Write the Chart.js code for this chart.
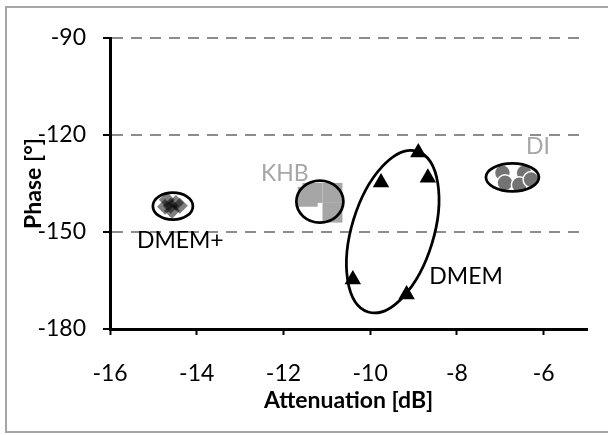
<!DOCTYPE html>
<html>
<head>
<meta charset="utf-8">
<script src="https://cdn.jsdelivr.net/npm/chart.js@4"></script>
<style>
  html, body { margin: 0; padding: 0; background: #fff; }
</style>
</head>
<body>
<canvas id="myChart" width="608" height="435"></canvas>
<script>
// axis ticks
const xTicks = [-16, -14, -12, -10, -8, -6];
const yTicks = [-180, -150, -120, -90];

// group names
const groups = ['DMEM+', 'KHB', 'DMEM', 'DI'];

// attenuation [dB] / phase [deg] per group
const dmemPlusAtt   = [-14.69, -14.48, -14.60, -14.39, -14.57, -14.73];
const dmemPlusPhase = [-140.0, -141.0, -141.9, -141.9, -143.4, -142.2];

const khbAtt   = [-11.33, -10.87, -10.87, -11.44];
const khbPhase = [-137.9, -137.9, -144.0, -139.1];

const dmemAtt   = [-8.89, -9.75, -8.67, -10.40, -9.16];
const dmemPhase = [-125.4, -134.7, -133.2, -164.7, -169.3];

const diAtt   = [-6.95, -6.89, -6.45, -6.56, -6.29];
const diPhase = [-131.7, -134.8, -131.7, -135.4, -133.8];

function pts(xs, ys) {
  return xs.map(function (x, i) { return { x: x, y: ys[i] }; });
}

// ellipses drawn round each group (centre in data units, radii in px, rotation in deg)
const rings = [
  { cx: -14.55, cy: -142.0, rx: 20,   ry: 13.5, rot: 0 },
  { cx: -11.16, cy: -140.6, rx: 23.5, ry: 21,   rot: 0 },
  { cx: -9.48,  cy: -149.9, rx: 41,   ry: 84,   rot: 17 },
  { cx: -6.72,  cy: -133.1, rx: 26.5, ry: 14,   rot: 0 }
];

// group labels
const tags = [
  { text: groups[0], x: -15.38, y: -152.7, align: 'left',   color: '#000' },
  { text: groups[1], x: -11.42, y: -131.8, align: 'right',  color: '#a6a6a6' },
  { text: groups[2], x: -8.635, y: -163.9, align: 'left',   color: '#000' },
  { text: groups[3], x: -6.13,  y: -123.5, align: 'center', color: '#a6a6a6' }
];

const overlay = {
  id: 'overlay',
  beforeDraw(chart) {
    const ctx = chart.ctx;
    ctx.save();
    ctx.fillStyle = '#fff';
    ctx.fillRect(0, 0, chart.width, chart.height);
    ctx.strokeStyle = '#a6a6a6';
    ctx.lineWidth = 2;
    ctx.strokeRect(6, 7, 610, 425);
    ctx.restore();
  },
  afterDatasetsDraw(chart) {
    const ctx = chart.ctx;
    const xs = chart.scales.x, ys = chart.scales.y;
    ctx.save();
    ctx.strokeStyle = '#000';
    ctx.lineWidth = 2.75;
    rings.forEach(function (r) {
      ctx.beginPath();
      ctx.ellipse(xs.getPixelForValue(r.cx), ys.getPixelForValue(r.cy), r.rx, r.ry, r.rot * Math.PI / 180, 0, Math.PI * 2);
      ctx.stroke();
    });
    ctx.font = '23px Lato';
    ctx.textBaseline = 'middle';
    tags.forEach(function (t) {
      ctx.fillStyle = t.color;
      ctx.textAlign = t.align;
      ctx.fillText(t.text, xs.getPixelForValue(t.x), ys.getPixelForValue(t.y));
    });
    ctx.restore();
  }
};

function draw() {
  Chart.defaults.font.family = 'Lato';
  Chart.defaults.color = '#000';

  var ctx = document.getElementById('myChart').getContext('2d');
  var myChart = new Chart(ctx, {
    type: 'scatter',
    plugins: [overlay],
    data: {
      datasets: [
        {
          label: groups[0],
          data: pts(dmemPlusAtt, dmemPlusPhase),
          pointStyle: 'rectRot',
          pointRadius: 8,
          backgroundColor: 'rgba(0,0,0,0.5)',
          borderWidth: 0
        },
        {
          label: groups[1],
          data: pts(khbAtt, khbPhase),
          pointStyle: 'rect',
          pointRadius: 14.1,
          backgroundColor: '#a6a6a6',
          borderWidth: 0
        },
        {
          label: groups[2],
          data: pts(dmemAtt, dmemPhase),
          pointStyle: 'triangle',
          pointRadius: 9.5,
          backgroundColor: '#000',
          borderWidth: 0
        },
        {
          label: groups[3],
          data: pts(diAtt, diPhase),
          pointStyle: 'circle',
          pointRadius: 8,
          backgroundColor: '#737373',
          borderColor: '#fff',
          borderWidth: 1.5
        }
      ]
    },
    options: {
      responsive: false,
      animation: false,
      layout: { padding: { left: 0, right: 21, top: 38, bottom: 0 } },
      plugins: {
        legend: { display: false },
        tooltip: { enabled: false }
      },
      scales: {
        x: {
          type: 'linear',
          position: 'bottom',
          min: -16,
          max: -5,
          bounds: 'data',
          afterBuildTicks: function (a) { a.ticks = xTicks.map(function (v) { return { value: v }; }); },
          afterFit: function (s) { s.height = 106; },
          grid: { drawOnChartArea: false, drawTicks: true, tickLength: 6, tickWidth: 2, tickColor: '#000' },
          border: { color: '#000', width: 3 },
          ticks: { padding: 25, color: '#000', font: { size: 23 } },
          title: {
            display: true,
            text: 'Attenuation [dB]',
            color: '#000',
            font: { size: 23, weight: 'bold' },
            padding: { top: 0, bottom: 21 }
          }
        },
        y: {
          type: 'linear',
          min: -180,
          max: -90,
          afterBuildTicks: function (a) { a.ticks = yTicks.map(function (v) { return { value: v }; }); },
          afterFit: function (s) { s.width = 110; },
          grid: {
            color: function (c) { return c.tick && c.tick.value === -180 ? 'rgba(0,0,0,0)' : '#8c8c8c'; },
            lineWidth: 2,
            tickLength: 7,
            tickWidth: 2,
            tickColor: '#000'
          },
          border: { color: '#000', width: 3, dash: [11, 8] },
          ticks: { padding: 17, color: '#000', font: { size: 23 } },
          title: {
            display: true,
            text: 'Phase [°]',
            color: '#000',
            font: { size: 23, weight: 'bold' },
            padding: { top: 20, bottom: 0 }
          }
        }
      }
    }
  });
}

Promise.all([
  document.fonts.load('23px Lato'),
  document.fonts.load('bold 23px Lato')
]).then(draw, draw);
</script>
</body>
</html>
